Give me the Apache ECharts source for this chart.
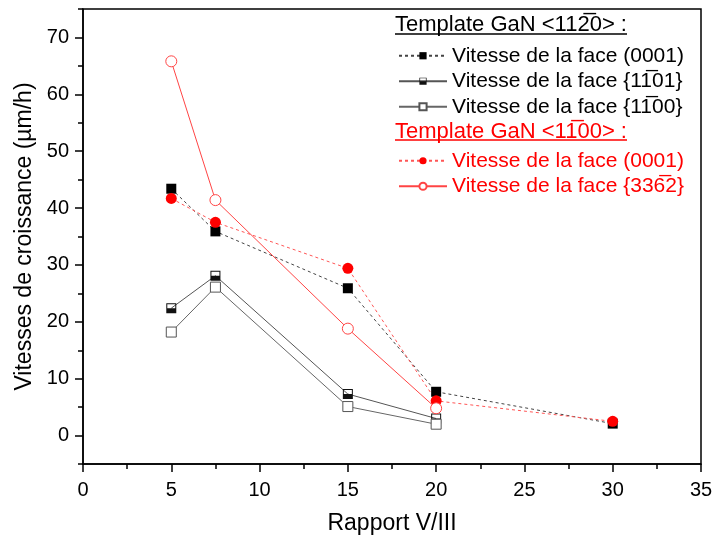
<!DOCTYPE html>
<html><head><meta charset="utf-8">
<script src="https://cdn.jsdelivr.net/npm/echarts@6/dist/echarts.min.js"></script>
<style>html,body{margin:0;padding:0;background:#fff}#c{width:713px;height:538px}</style>
</head><body><div id="c"></div>
<script>
// ---- data ----
const xA = [5, 7.5, 15, 20, 30];
const xB = [5, 7.5, 15, 20];
const black0001 = [43.4, 35.9, 25.9, 7.7, 2.1];
const half1101 = [22.4, 28.1, 7.3, 3.0];
const open1100 = [18.2, 26.1, 5.1, 2.0];
const red0001 = [41.7, 37.5, 29.4, 6.1, 2.5];
const red3362 = [65.8, 41.4, 18.8, 4.8];
const yMajor = [0, 10, 20, 30, 40, 50, 60, 70];
const yMinor = [-5, 5, 15, 25, 35, 45, 55, 65, 75];
const header1 = 'Template GaN <112\u03050> :';
const header2 = 'Template GaN <11\u030500> :';
const names = {
  b1: 'Vitesse de la face (0001)',
  b2: 'Vitesse de la face {11\u030501}',
  b3: 'Vitesse de la face {11\u030500}',
  r1: 'Vitesse de la face (0001) ',
  r2: 'Vitesse de la face {336\u03052}'
};
const pairs = (xs, ys) => xs.map((x, i) => [x, ys[i]]);

const FONT = 'Liberation Sans, Arial, sans-serif';
const halfSq = 'path://M0,0 L10,0 L10,10 L0,10 Z M1,1 L1,5 L9,5 L9,1 Z';

const chart = echarts.init(document.getElementById('c'));
chart.setOption({
  animation: false,
  textStyle: {fontFamily: FONT},
  grid: {left: 83, right: 12, top: 9, bottom: 74, outerBoundsMode: 'none', containLabel: false,
         show: true, borderColor: '#000', borderWidth: 1.5, backgroundColor: 'transparent'},
  xAxis: [{
    type: 'value', min: 0, max: 35, interval: 5,
    name: 'Rapport V/III', nameLocation: 'middle', nameGap: 48,
    nameTextStyle: {fontSize: 23, color: '#000', fontFamily: FONT},
    axisLine: {onZero: false, lineStyle: {color: '#000', width: 1.5}},
    axisTick: {length: 8, lineStyle: {color: '#000', width: 1.5}},
    minorTick: {show: true, splitNumber: 2, length: 5, lineStyle: {color: '#000', width: 1.5}},
    axisLabel: {fontSize: 20, color: '#000', margin: 16, fontFamily: FONT},
    splitLine: {show: false}
  }],
  yAxis: [{
    type: 'value', min: -5, max: 75,
    name: 'Vitesses de croissance (\u00b5m/h)', nameLocation: 'middle', nameGap: 42,
    nameTextStyle: {fontSize: 23, color: '#000', fontFamily: FONT},
    axisLine: {show: true, onZero: false, lineStyle: {color: '#000', width: 1.5}},
    axisTick: {show: true, length: 8, customValues: yMajor, lineStyle: {color: '#000', width: 1.5}},
    axisLabel: {fontSize: 20, color: '#000', margin: 14, customValues: yMajor, fontFamily: FONT},
    splitLine: {show: false}
  }, {
    type: 'value', min: -5, max: 75, position: 'left',
    axisLine: {show: false, onZero: false},
    axisTick: {show: true, length: 5, customValues: yMinor, lineStyle: {color: '#000', width: 1.5}},
    axisLabel: {show: false},
    splitLine: {show: false}
  }],
  legend: [{
    orient: 'vertical', left: 393, top: 40, selectedMode: false,
    itemWidth: 48, itemHeight: 9, itemGap: 4,
    textStyle: {fontSize: 21, lineHeight: 21.5, color: '#000', fontFamily: FONT},
    data: [names.b1, names.b2, names.b3]
  }, {
    orient: 'vertical', left: 393, top: 145, selectedMode: false,
    itemWidth: 48, itemHeight: 9, itemGap: 4,
    textStyle: {fontSize: 21, lineHeight: 21.5, color: '#ff0000', fontFamily: FONT},
    data: [names.r1, names.r2]
  }],
  graphic: [
    {type: 'text', left: 395, top: 14, style: {text: header1, fontSize: 22, fill: '#000', fontFamily: FONT}},
    {type: 'line', shape: {x1: 395, y1: 34, x2: 627, y2: 34}, style: {stroke: '#000', lineWidth: 1.5}},
    {type: 'text', left: 395, top: 121, style: {text: header2, fontSize: 22, fill: '#ff0000', fontFamily: FONT}},
    {type: 'line', shape: {x1: 395, y1: 140, x2: 627, y2: 140}, style: {stroke: '#ff0000', lineWidth: 1.5}}
  ],
  series: [{
    name: names.b1, type: 'line', data: pairs(xA, black0001),
    symbol: 'rect', symbolSize: 10,
    itemStyle: {color: '#000'},
    lineStyle: {color: '#444', width: 1, type: [3, 3]}
  }, {
    name: names.b2, type: 'line', data: pairs(xB, half1101),
    symbol: halfSq, symbolSize: 10, symbolKeepAspect: true,
    itemStyle: {color: '#111'},
    lineStyle: {color: '#555', width: 1}
  }, {
    name: names.b3, type: 'line', data: pairs(xB, open1100),
    symbol: 'rect', symbolSize: 10,
    itemStyle: {color: '#fff', borderColor: '#555', borderWidth: 1},
    lineStyle: {color: '#666', width: 1}
  }, {
    name: names.r1, type: 'line', data: pairs(xA, red0001),
    symbol: 'circle', symbolSize: 11,
    itemStyle: {color: '#ff0000'},
    lineStyle: {color: '#ff5555', width: 1, type: [3, 3]}
  }, {
    name: names.r2, type: 'line', data: pairs(xB, red3362),
    symbol: 'circle', symbolSize: 11,
    itemStyle: {color: '#fff', borderColor: '#ff4444', borderWidth: 1},
    lineStyle: {color: '#ff4444', width: 1}
  }]
});
</script></body></html>
